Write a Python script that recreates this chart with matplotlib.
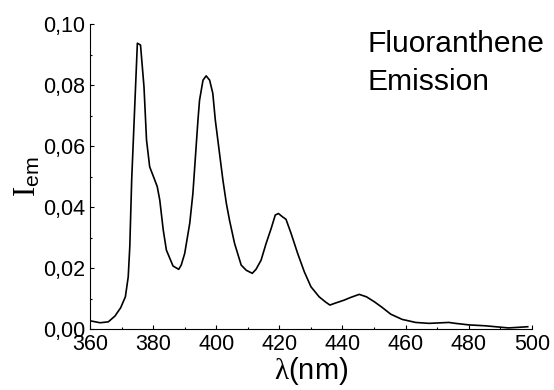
import matplotlib
matplotlib.use('Agg')
import matplotlib.pyplot as plt
from matplotlib.ticker import MultipleLocator, FuncFormatter

plt.rcParams['font.family'] = ['Liberation Sans', 'DejaVu Sans']
plt.rcParams['mathtext.fontset'] = 'custom'
plt.rcParams['mathtext.rm'] = 'Liberation Serif'
plt.rcParams['mathtext.sf'] = 'Liberation Sans'
plt.rcParams['mathtext.it'] = 'Liberation Serif:italic'

# emission spectrum
wavelength = [360.2, 363.2, 365.8, 367.9, 369.7, 371.2, 372.1, 372.6, 373.2,
              375.0, 376.0, 377.1, 377.9, 378.9, 380.5, 381.3, 382.1, 383.2,
              384.2, 386.3, 388.1, 388.9, 390.0, 391.6, 392.6, 394.2, 394.7,
              395.8, 396.8, 397.9, 398.9, 399.7, 402.1, 403.2, 404.2, 405.8,
              407.9, 409.5, 411.4, 412.6, 414.2, 415.8, 417.4, 418.7, 419.7,
              421.0, 422.1, 423.7, 425.8, 427.9, 430.0, 432.6, 434.5, 436.0,
              437.9, 440.5, 442.6, 445.3, 447.6, 450.2, 452.6, 455.3, 458.9,
              463.2, 467.4, 471.6, 473.7, 475.8, 480.0, 485.3, 489.5, 492.6,
              495.8, 498.7]
intensity = [0.0027, 0.0021, 0.0024, 0.0043, 0.0070, 0.0106, 0.0171, 0.0270, 0.0489,
             0.0937, 0.0931, 0.0794, 0.0620, 0.0532, 0.0489, 0.0467, 0.0423, 0.0325,
             0.0259, 0.0207, 0.0196, 0.0210, 0.0248, 0.0347, 0.0445, 0.0685, 0.0750,
             0.0816, 0.0830, 0.0816, 0.0773, 0.0685, 0.0489, 0.0412, 0.0357, 0.0281,
             0.0210, 0.0193, 0.0183, 0.0196, 0.0226, 0.0281, 0.0330, 0.0374, 0.0379,
             0.0368, 0.0360, 0.0314, 0.0248, 0.0188, 0.0139, 0.0106, 0.0090, 0.0079,
             0.0086, 0.0095, 0.0104, 0.0114, 0.0106, 0.0089, 0.0071, 0.0049, 0.0032,
             0.0022, 0.0019, 0.0021, 0.0022, 0.0019, 0.0014, 0.0011, 0.0007, 0.0004,
             0.0006, 0.0008]

fig = plt.figure(figsize=(5.54, 3.9), dpi=100)
ax = fig.add_axes([0.1625, 0.156, 0.7975, 0.7825])

ax.plot(wavelength, intensity, color='black', linewidth=1.2)

ax.set_xlim(360, 500)
ax.set_ylim(0, 0.10)
ax.xaxis.set_major_locator(MultipleLocator(20))
ax.xaxis.set_minor_locator(MultipleLocator(10))
ax.yaxis.set_major_locator(MultipleLocator(0.02))
ax.yaxis.set_minor_locator(MultipleLocator(0.01))
ax.yaxis.set_major_formatter(FuncFormatter(lambda v, p: ('%.2f' % v).replace('.', ',')))

ax.spines['top'].set_visible(False)
ax.spines['right'].set_visible(False)
ax.tick_params(which='both', direction='in', labelsize=15.5, width=0.8)
ax.tick_params(which='major', length=3, pad=3.5)
ax.tick_params(which='minor', length=1.6)

ax.set_xlabel(r'$\mathrm{\lambda}$(nm)', fontsize=21, labelpad=0)
ax.set_ylabel(r'$\mathrm{I}_{\mathsf{em}}$', fontsize=22, labelpad=0)

fig.text(368 / 554, 1 - 52 / 390, 'Fluoranthene', fontsize=21.6, va='baseline', ha='left')
fig.text(368 / 554, 1 - 90 / 390, 'Emission', fontsize=21.6, va='baseline', ha='left')

fig.savefig('out.png', dpi=100)
